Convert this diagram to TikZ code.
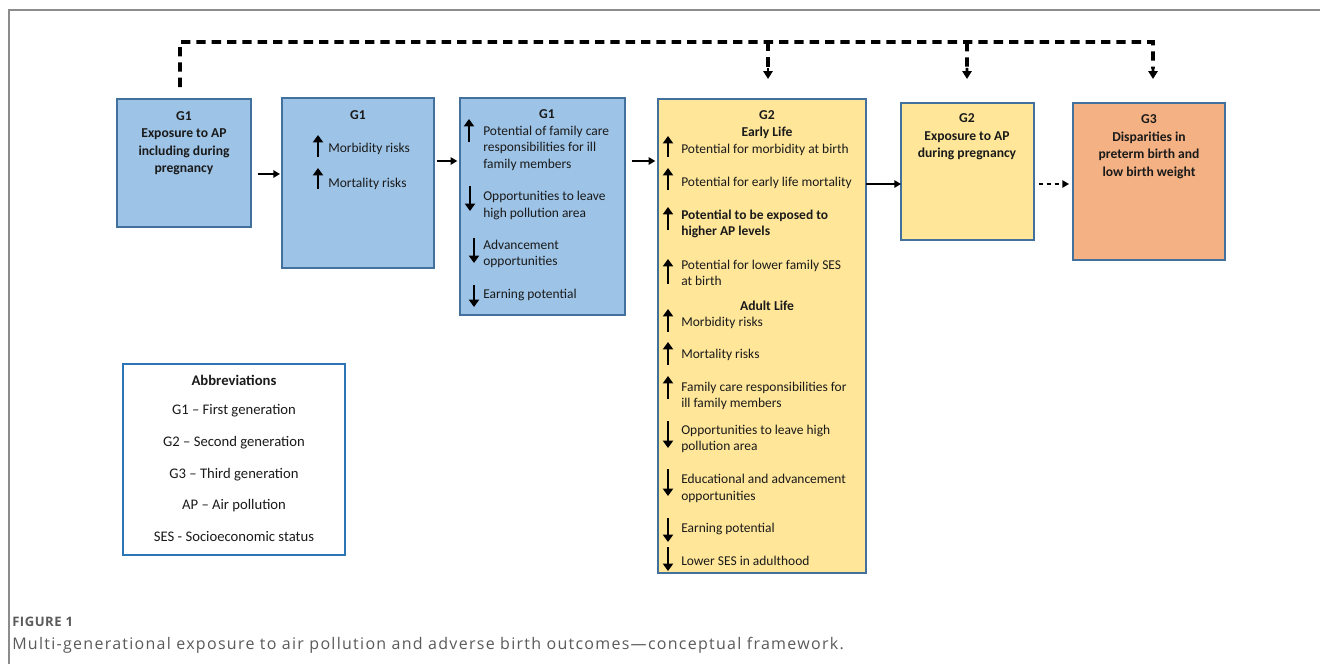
\documentclass[tikz,border=0pt]{standalone}
\usepackage{fontspec}
\setmainfont{Carlito}
\newfontfamily\capfont{Open Sans}
\usetikzlibrary{arrows.meta,calc}
\definecolor{bluefill}{HTML}{9DC3E6}
\definecolor{blueline}{HTML}{41719C}
\definecolor{yelfill}{HTML}{FFE699}
\definecolor{orfill}{HTML}{F4B183}
\definecolor{abbrline}{HTML}{2E75B6}
\definecolor{capgrey}{HTML}{5A5A5A}
\definecolor{framegrey}{HTML}{8C8C8C}
\definecolor{txt}{HTML}{1A1A1A}
\tikzset{
  box/.style={draw=blueline, line width=1.5pt, inner sep=0pt, outer sep=0pt, rectangle},
  bfont/.style={font=\fontsize{10.1}{12.4}\selectfont, text=txt, inner sep=0pt},
  ltext/.style={bfont, anchor=west, align=left},
  ctext/.style={bfont, align=center, font=\fontsize{10.2}{13.1}\selectfont\bfseries},
  abtext/.style={bfont, font=\fontsize{11}{13}\selectfont},
  uparr/.style={line width=2.1pt, -{Triangle[length=5.5pt,width=7.5pt]}},
  conn/.style={line width=1.1pt, -{Triangle[length=5pt,width=5.5pt]}},
  topdash/.style={line width=2.8pt, dash pattern=on 7pt off 4.5pt},
}
\begin{document}
\begin{tikzpicture}[x=0.75pt,y=-0.75pt]
\useasboundingbox (0,0) rectangle (1320,664);
\draw[framegrey, line width=1.1pt] (9,664) -- (9,10) -- (1320,10);

% boxes
\node[box, fill=bluefill, minimum width=100.5pt, minimum height=96pt] (A) at (184,163) {};
\node[box, fill=bluefill, minimum width=114pt, minimum height=127.5pt] (B) at (358,183) {};
\node[box, fill=bluefill, minimum width=123.75pt, minimum height=162.75pt] (C) at (542.5,206.5) {};
\node[box, fill=yelfill, minimum width=156pt, minimum height=355.5pt] (D) at (762,336) {};
\node[box, fill=yelfill, minimum width=99.75pt, minimum height=102.75pt] (E) at (967.5,171.5) {};
\node[box, fill=orfill, minimum width=114pt, minimum height=117.75pt] (F) at (1149,181.5) {};
\node[box, draw=abbrline, fill=white, minimum width=166.5pt, minimum height=143.25pt] (AB) at (234,459.5) {};

% box A
\node[ctext] (Atx) at (184,143) {G1\\Exposure to AP\\including during\\pregnancy};
% box B
\node[ctext] (Bt) at (358,115) {G1};
\draw[uparr] (318,157) -- (318,135);
\node[ltext] (B1) at (328,149) {Morbidity risks};
\draw[uparr] (318,189) -- (318,168);
\node[ltext] (B2) at (328,184) {Mortality risks};
% box C
\node[ctext] (Ct) at (547,114) {G1};
\draw[uparr] (469,142) -- (469,119);
\node[ltext] (C1) at (483,148) {Potential of family care\\responsibilities for ill\\family members};
\draw[uparr] (470,186) -- (470,211);
\node[ltext] (C2) at (483,205.5) {Opportunities to leave\\high pollution area};
\draw[uparr] (474,238) -- (474,263);
\node[ltext] (C3) at (483,254) {Advancement\\opportunities};
\draw[uparr] (474,285) -- (474,307);
\node[ltext] (C4) at (483,295) {Earning potential};
% box D
\node[ctext] (Dt) at (767,124.5) {G2\\Early Life};
\draw[uparr] (668,157) -- (668,136);
\node[ltext] (D1) at (681,150) {Potential for morbidity at birth};
\draw[uparr] (668,190) -- (668,168);
\node[ltext] (D2) at (681,183) {Potential for early life mortality};
\draw[uparr] (668,230) -- (668,207);
\node[ltext, font=\fontsize{10.1}{12.4}\selectfont\bfseries] (D3) at (681,224) {Potential to be exposed to\\higher AP levels};
\draw[uparr] (668,284) -- (668,259);
\node[ltext] (D4) at (681,273) {Potential for lower family SES\\at birth};
\node[ctext] (Da) at (767,306) {Adult Life};
\draw[uparr] (668,332) -- (668,309);
\node[ltext] (D5) at (681,323) {Morbidity risks};
\draw[uparr] (668,365) -- (668,342);
\node[ltext] (D6) at (681,355) {Mortality risks};
\draw[uparr] (668,399) -- (668,376);
\node[ltext] (D7) at (681,396) {Family care responsibilities for\\ill family members};
\draw[uparr] (668,421) -- (668,448);
\node[ltext] (D8) at (681,439) {Opportunities to leave high\\pollution area};
\draw[uparr] (668,469) -- (668,496);
\node[ltext] (D9) at (681,488.5) {Educational and advancement\\opportunities};
\draw[uparr] (668,518) -- (668,542);
\node[ltext] (D10) at (681,529) {Earning potential};
\draw[uparr] (668,547) -- (668,571);
\node[ltext] (D11) at (681,561) {Lower SES in adulthood};
% box E
\node[ctext] (Etx) at (967,137) {G2\\Exposure to AP\\during pregnancy};
% box F
\node[ctext] (Ftx) at (1149,146.5) {G3\\Disparities in\\preterm birth and\\low birth weight};
% abbreviations
\node[ctext, font=\fontsize{11}{13}\selectfont\bfseries] (ABt) at (234,380) {Abbreviations};
\node[abtext] (AB1) at (234,411) {G1 -- First generation};
\node[abtext] (AB2) at (234,443) {G2 -- Second generation};
\node[abtext] (AB3) at (234,475) {G3 -- Third generation};
\node[abtext] (AB4) at (234,506) {AP -- Air pollution};
\node[abtext] (AB5) at (234,536) {SES - Socioeconomic status};

% connectors
\draw[conn, line width=2.2pt, shorten <=5pt, shorten >=1.5pt] (A.east |- 0,174) -- (B.west |- 0,174);
\draw[conn, shorten <=2pt, shorten >=2pt] (B.east |- 0,161) -- (C.west |- 0,161);
\draw[conn, shorten <=5pt, shorten >=2pt] (C.east |- 0,161) -- (D.west |- 0,161);
\draw[conn] (D.east |- 0,184) -- (E.west |- 0,184);
\draw[conn, dashed, shorten <=3.5pt, shorten >=3pt] (E.east |- 0,184) -- (F.west |- 0,184);

% top dashed feedback
\coordinate (tl) at (180,42);
\coordinate (tr) at (1153,42);
\coordinate (bD) at (768,42);
\coordinate (bE) at (967,42);
\coordinate (eD) at (768,79);
\coordinate (eE) at (967,79);
\coordinate (eF) at (1153,79);
\draw[topdash, shorten <=9pt] (A.north -| tl) -- (tl) -- (tr) -- ($(tr)!0.72!(eF)$);
\draw[line width=2.2pt, -{Triangle[length=6pt,width=7pt]}] ($(tr)!0.7!(eF)$) -- (eF);
\draw[topdash] (bD) -- ($(bD)!0.72!(eD)$);
\draw[line width=2.2pt, -{Triangle[length=6pt,width=7pt]}] ($(bD)!0.7!(eD)$) -- (eD);
\draw[topdash] (bE) -- ($(bE)!0.72!(eE)$);
\draw[line width=2.2pt, -{Triangle[length=6pt,width=7pt]}] ($(bE)!0.7!(eE)$) -- (eE);

% caption
\node[anchor=west, inner sep=0pt, text=capgrey, font=\capfont\bfseries\fontsize{9.8}{11}\selectfont\addfontfeature{LetterSpace=4}] (cap1) at (12,622) {FIGURE 1};
\node[anchor=west, inner sep=0pt, text=capgrey, font=\capfont\fontsize{12}{14}\selectfont\addfontfeature{LetterSpace=8}] (cap2) at (12,645) {Multi-generational exposure to air pollution and adverse birth outcomes—conceptual framework.};
\end{tikzpicture}
\end{document}
